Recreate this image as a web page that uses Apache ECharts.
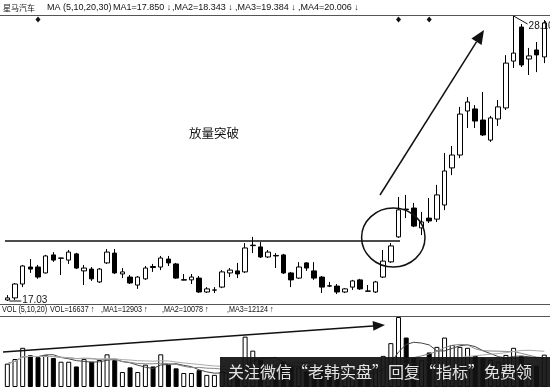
<!DOCTYPE html>
<html>
<head>
<meta charset="utf-8">
<script src="https://cdn.jsdelivr.net/npm/echarts/dist/echarts.min.js"></script>
<style>
  html, body { margin: 0; padding: 0; background: #fff; }
  #chart { width: 550px; height: 387px; }
</style>
</head>
<body>
<div id="chart"></div>
<script>
// Daily OHLC for 星马汽车 (one entry per trading day)
const opens = [
  17.07, 17.15, 17.69, 18.35, 18.35, 18.12, 18.82, 18.69, 18.62, 18.86,
  18.20, 18.27, 17.77, 18.51, 18.89, 18.08, 17.96, 17.65, 17.89, 18.37,
  18.35, 18.66, 18.47, 17.84, 17.85, 17.92, 17.38, 17.45, 17.57, 18.12,
  18.20, 18.16, 19.18, 19.13, 18.74, 18.80, 18.82, 18.12, 17.92, 18.51,
  18.20, 17.96, 17.62, 17.61, 17.38, 17.57, 17.85, 17.42, 17.38, 17.96,
  18.55, 19.52, 20.60, 20.64, 19.87, 20.25, 20.21, 20.76, 22.20, 22.70,
  24.41, 24.49, 24.06, 23.28, 24.10, 24.53, 26.35, 27.67, 26.43, 26.78,
  26.51
];
const closes = [
  17.15, 17.69, 18.39, 18.27, 17.96, 18.78, 18.62, 18.70, 18.93, 18.31,
  18.31, 17.89, 18.27, 18.93, 18.12, 18.16, 17.73, 17.96, 18.31, 18.33,
  18.70, 18.51, 17.92, 17.86, 17.96, 17.38, 17.50, 17.46, 18.16, 18.23,
  18.08, 19.09, 19.20, 18.74, 18.93, 18.78, 18.12, 17.85, 18.35, 18.31,
  17.92, 17.57, 17.61, 17.38, 17.50, 17.81, 17.50, 17.41, 17.77, 18.58,
  19.17, 20.57, 20.58, 19.94, 20.10, 20.14, 21.15, 22.08, 22.70, 24.29,
  24.76, 24.02, 23.48, 24.14, 24.57, 26.27, 26.66, 26.20, 26.55, 26.59,
  27.83
];
const lows = [
  17.03, 17.07, 17.57, 18.12, 17.89, 18.10, 18.55, 18.04, 18.47, 18.27,
  17.65, 17.81, 17.73, 18.47, 18.08, 17.92, 17.69, 17.50, 17.85, 18.16,
  18.23, 18.39, 17.89, 17.83, 17.69, 17.34, 17.34, 17.34, 17.53, 17.96,
  17.92, 18.12, 18.89, 18.70, 18.70, 18.31, 18.08, 17.57, 17.89, 18.20,
  17.85, 17.34, 17.57, 17.30, 17.34, 17.46, 17.46, 17.40, 17.34, 17.92,
  18.51, 19.48, 20.25, 19.90, 19.59, 20.06, 20.10, 20.56, 21.92, 22.58,
  23.75, 23.75, 23.44, 23.21, 23.83, 24.45, 26.08, 26.12, 25.81, 25.92,
  26.27
];
const highs = [
  17.26, 17.73, 18.43, 18.66, 18.43, 18.82, 18.93, 18.71, 19.01, 18.90,
  18.43, 18.35, 18.31, 19.05, 19.05, 18.31, 18.04, 18.00, 18.39, 18.47,
  18.78, 18.78, 18.51, 18.08, 18.08, 18.00, 17.57, 17.57, 18.23, 18.31,
  18.51, 19.28, 19.52, 19.32, 19.01, 18.89, 18.86, 18.16, 18.54, 18.54,
  18.54, 18.00, 17.77, 17.69, 17.53, 17.85, 17.89, 17.65, 17.81, 19.01,
  19.28, 21.07, 21.15, 20.84, 20.49, 21.03, 21.54, 22.78, 23.05, 24.57,
  24.95, 24.64, 25.15, 24.22, 24.84, 26.58, 28.10, 27.79, 26.86, 27.09,
  27.94
];
// Daily volume (lots)
const volumes = [
  12000, 14400, 20160, 16300, 15360, 16300, 14900, 13000, 13000, 10560,
  14400, 13000, 13900, 16800, 13900, 7700, 10100, 7700, 11500, 10560,
  16800, 11500, 9600, 7200, 7200, 8640, 6240, 6240, 8000, 7000,
  7500, 25900, 18700, 14000, 9000, 8500, 13000, 11000, 10000, 8000,
  9000, 10000, 6000, 7000, 5500, 7500, 8000, 6000, 9500, 16000,
  22560, 36000, 25440, 15000, 14000, 17760, 20640, 25440, 21600, 20640,
  20160, 16000, 15000, 14000, 13000, 16500, 20160, 16000, 12000, 11000,
  16637
];
// Days carrying a signal marker above the price panel
const signalDays = [4, 51, 55];
// Volume moving-average periods
const volMaPeriods = [5, 10, 20];
const volMaColors = ['#444', '#888', '#aaa'];

const days = opens.map((_, i) => String(i + 1));
const ohlc = opens.map((o, i) => [o, closes[i], lows[i], highs[i]]);

function movingAverage(values, n) {
  return values.map((_, i) => {
    const win = values.slice(Math.max(0, i - n + 1), i + 1);
    return Math.round(win.reduce((a, b) => a + b, 0) / win.length);
  });
}

const priceMin = Math.min(...lows);
const priceMax = Math.max(...highs);
const volMax = Math.max(...volumes);

const latin = '"Liberation Sans", "DejaVu Sans", "Noto Sans CJK SC", sans-serif';
const cjk = '"Noto Sans CJK SC", sans-serif';

const chart = echarts.init(document.getElementById('chart'), null, { renderer: 'canvas' });

chart.setOption({
  animation: false,
  backgroundColor: '#fff',
  grid: [
    { left: 3.5, width: 544.6, top: 16, height: 285 },
    { left: 3.5, width: 544.6, top: 317, height: 75 }
  ],
  xAxis: [
    { type: 'category', gridIndex: 0, data: days, boundaryGap: true, show: false },
    { type: 'category', gridIndex: 1, data: days, boundaryGap: true, show: false }
  ],
  yAxis: [
    { type: 'value', gridIndex: 0, min: priceMin, max: priceMax, show: false },
    { type: 'value', gridIndex: 1, min: 0, max: volMax, show: false }
  ],
  series: [
    {
      type: 'candlestick',
      xAxisIndex: 0, yAxisIndex: 0,
      data: ohlc,
      barWidth: 5,
      silent: true,
      itemStyle: {
        color: '#fff', color0: '#000',
        borderColor: '#000', borderColor0: '#000', borderWidth: 1
      }
    },
    {
      type: 'bar',
      xAxisIndex: 1, yAxisIndex: 1,
      data: volumes,
      barWidth: 5,
      silent: true,
      itemStyle: {
        color: p => (closes[p.dataIndex] >= opens[p.dataIndex] ? '#fff' : '#000'),
        borderColor: '#000', borderWidth: 1
      }
    },
    ...volMaPeriods.map((n, k) => ({
      type: 'line',
      xAxisIndex: 1, yAxisIndex: 1,
      data: movingAverage(volumes, n),
      showSymbol: false,
      silent: true,
      lineStyle: { color: volMaColors[k], width: 1 },
      z: 3
    }))
  ]
});

// Panel rules, headers and hand-drawn annotations
const txt = (x, y, text, size, font, extra) => Object.assign({
  type: 'text', x, y, z: 100,
  style: { text, fill: '#111', font: `${size}px ${font}`, textVerticalAlign: 'middle' }
}, extra || {});
const narrow = { scaleX: 0.8 };

const statics = [
  { type: 'line', z: 100, shape: { x1: 0, y1: 15.5, x2: 550, y2: 15.5 }, style: { stroke: '#555', lineWidth: 1 } },
  { type: 'line', z: 100, shape: { x1: 0, y1: 304.5, x2: 550, y2: 304.5 }, style: { stroke: '#555', lineWidth: 1 } },
  { type: 'line', z: 100, shape: { x1: 0, y1: 316.5, x2: 550, y2: 316.5 }, style: { stroke: '#555', lineWidth: 1 } },

  txt(3, 8, '星马汽车', 8, cjk),
  txt(47, 8, 'MA (5,10,20,30)', 9, latin),
  txt(113, 8, 'MA1=17.850 ↓', 9, latin),
  txt(172, 8, ',MA2=18.343 ↓', 9, latin),
  txt(235, 8, ',MA3=19.384 ↓', 9, latin),
  txt(298, 8, ',MA4=20.006 ↓', 9, latin),

  txt(2, 310, 'VOL (5,10,20)', 9, latin, narrow),
  txt(50, 310, 'VOL=16637 ↑', 9, latin, narrow),
  txt(101, 310, ',MA1=12903 ↑', 9, latin, narrow),
  txt(162, 310, ',MA2=10078 ↑', 9, latin, narrow),
  txt(227, 310, ',MA3=12124 ↑', 9, latin, narrow),

  // resistance line and breakout ring
  { type: 'line', z: 100, shape: { x1: 5, y1: 241, x2: 400, y2: 241 }, style: { stroke: '#111', lineWidth: 1.5 } },
  { type: 'ellipse', z: 100, shape: { cx: 393.3, cy: 237.5, rx: 31.7, ry: 29.5 }, style: { fill: null, stroke: '#111', lineWidth: 1.5 } },
  txt(189, 133, '放量突破', 12.5, cjk, {}),

  // trend arrow in the price panel
  { type: 'line', z: 100, shape: { x1: 380, y1: 195, x2: 476.5, y2: 41.8 }, style: { stroke: '#111', lineWidth: 1.5 } },
  { type: 'polygon', z: 100, shape: { points: [[484, 30], [481.6, 45.0], [471.4, 38.6]] }, style: { fill: '#111' } },

  // rising-volume arrow
  { type: 'line', z: 100, shape: { x1: 3, y1: 352, x2: 373, y2: 325.9 }, style: { stroke: '#111', lineWidth: 1.5 } },
  { type: 'polygon', z: 100, shape: { points: [[385, 325], [373.4, 330.8], [372.6, 320.9]] }, style: { fill: '#111' } },

  // caption banner
  { type: 'rect', z: 200, shape: { x: 220, y: 357, width: 330, height: 30 }, style: { fill: 'rgba(18,18,18,0.93)' } },
  {
    type: 'text', x: 228, y: 372, z: 201,
    style: { text: '关注微信“老韩实盘”回复“指标”免费领', fill: '#e4e4e4', font: `16px ${cjk}`, textVerticalAlign: 'middle' }
  }
];

// Elements placed from the data through the axes
const dynamics = [];
signalDays.forEach(d => {
  const x = chart.convertToPixel({ gridIndex: 0 }, [d, priceMax])[0];
  dynamics.push({
    type: 'polygon', z: 100,
    shape: { points: [[x, 16.5], [x + 2.5, 19.5], [x, 22.5], [x - 2.5, 19.5]] },
    style: { fill: '#111' }
  });
});

const lowIdx = lows.indexOf(priceMin);
const lowPt = chart.convertToPixel({ gridIndex: 0 }, [lowIdx, priceMin]);
dynamics.push(
  { type: 'line', z: 100, shape: { x1: lowPt[0] + 2, y1: lowPt[1], x2: lowPt[0] + 14, y2: lowPt[1] }, style: { stroke: '#111', lineWidth: 1 } },
  txt(lowPt[0] + 15, lowPt[1] - 1, priceMin.toFixed(2), 10, latin)
);

const highIdx = highs.indexOf(priceMax);
const highPt = chart.convertToPixel({ gridIndex: 0 }, [highIdx, priceMax]);
dynamics.push(
  { type: 'line', z: 100, shape: { x1: highPt[0], y1: highPt[1], x2: highPt[0] + 14, y2: highPt[1] + 8 }, style: { stroke: '#111', lineWidth: 1 } },
  txt(highPt[0] + 15, highPt[1] + 10, priceMax.toFixed(2), 10, latin)
);

chart.setOption({ graphic: statics.concat(dynamics) });
</script>
</body>
</html>
